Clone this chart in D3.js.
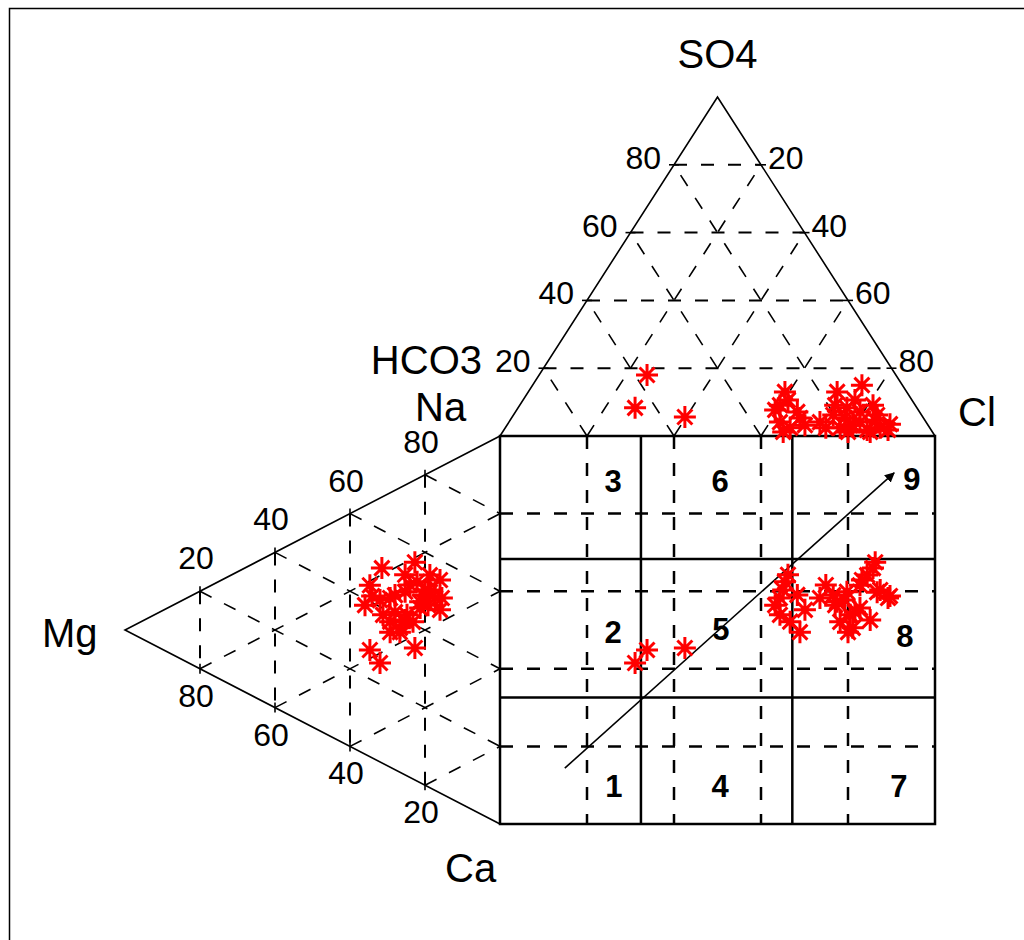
<!DOCTYPE html>
<html><head><meta charset="utf-8">
<script src="https://cdn.jsdelivr.net/npm/d3@7"></script>
<style>body{margin:0;background:#fff}svg{display:block}</style>
</head><body><svg id="c" width="1024" height="940"></svg>
<script>
// ---- sample data (percent of meq) ----
const ca   = [26.5,27.1,30.7,30.5,33.2,37.2,33.1,18.3,21.1,30.9,27.5,32.1,33.7,36.3,36.1,33.7,27.0,30.1,26.5,34.0,37.8,42.5,43.3,
              25.6,23.1,36.8,29.7,26.4,26.3,31.4,34.8,24.2,29.1,35.9,34.0,21.2];
const mg   = [22.1,29.3,20.5,31.2,29.3,26.7,17.3,31.5,34.7,18.7,25.3,21.3,24.8,23.2,26.7,21.3,28.0,19.2,18.7,15.5,34.7,32.0,22.7,
              36.0,25.3,16.0,20.0,24.0,32.0,28.0,25.3,34.1,16.0,29.3,19.2,22.7];
const na   = [51.4,43.6,48.8,38.3,37.5,36.1,49.6,50.2,44.2,50.4,47.2,46.6,41.5,40.5,37.2,45.0,45.0,50.7,54.8,50.5,27.5,25.5,34.0,
              38.4,51.6,47.2,50.3,49.6,41.7,40.6,39.9,41.7,54.9,34.8,46.8,56.1];
const hco3 = [28.0,31.1,28.1,33.6,32.1,28.4,24.4,9.7,13.7,10.2,16.1,16.0,17.9,20.6,17.3,15.2,20.3,11.4,14.7,9.9,57.2,64.8,54.7,
              32.9,28.5,28.3,34.3,23.9,18.1,13.1,14.3,8.6,9.3,19.4,18.4,11.4];
const so4  = [13.0,9.1,7.1,4.1,2.4,5.3,4.1,9.1,7.1,6.2,8.3,13.0,3.2,2.4,3.2,4.1,6.2,2.4,1.8,1.8,18.0,8.3,5.6,
              7.7,10.6,3.2,1.2,2.4,5.3,10.6,1.2,3.5,15.0,1.2,9.1,4.7];
const cl   = [59.0,59.8,64.8,62.3,65.5,66.3,71.5,81.2,79.2,83.6,75.6,71.0,78.9,77.0,79.5,80.7,73.5,86.2,83.5,88.3,24.8,26.9,39.7,
              59.4,60.9,68.5,64.5,73.7,76.6,76.3,84.5,87.9,75.7,79.4,72.5,83.9];

const gridLevels = [20,40,60,80];
const zoneBoundsX = [32.4,67.2];
const zoneBoundsY = [31.7,67.4];
const so4Labels   = ["20","40","60","80"];   // left side of anion triangle, at SO4 = 20..80
const clLabels    = ["80","60","40","20"];   // right side, at SO4 = 20..80
const naLabels    = ["80","60","40","20"];   // upper side of cation triangle, at Mg = 20..80
const mgLabels    = ["20","40","60","80"];   // lower side, at Mg = 20..80
const zoneNames   = ["1","2","3","4","5","6","7","8","9"];
const zoneAt      = [[26.2,93.0],[26.0,53.4],[26.0,14.4],[50.6,93.0],[50.8,52.6],[50.6,14.4],[91.7,93.0],[93.1,54.4],[94.7,13.9]];
const arrowFrom = [14.9,85.6], arrowTo = [90.6,9.5];

const W=1024,H=940;
const svg=d3.select("#c");
svg.append("rect").attr("width",W).attr("height",H).attr("fill","#fff");
svg.append("rect").attr("x",9.5).attr("y",8.5).attr("width",1200).attr("height",1200)
  .attr("fill","none").attr("stroke","#000").attr("stroke-width",1.5);

const xSq=d3.scaleLinear().domain([0,100]).range([500,935]);
const ySq=d3.scaleLinear().domain([0,100]).range([436,824]);
const ySO4=d3.scaleLinear().domain([0,100]).range([436,97]);
const xMg=d3.scaleLinear().domain([0,100]).range([500,125]);

const anionPt=(h,s,c)=>[xSq(c+s/2), ySO4(s)];
const cationPt=(c,m,n)=>[xMg(m), ySq(c+m/2)];

const gGrid=svg.append("g").attr("fill","none").attr("stroke","#000");
const dash="13,14";
function seg(g,a,b,w,d){g.append("line").attr("x1",a[0]).attr("y1",a[1]).attr("x2",b[0]).attr("y2",b[1])
  .attr("stroke-width",w).attr("stroke-dasharray",d||null);}

// anion triangle grid
gridLevels.forEach(k=>{
  seg(gGrid,anionPt(100-k,k,0),anionPt(0,k,100-k),2,dash);
  seg(gGrid,anionPt(100-k,0,k),anionPt(0,100-k,k),1.6,dash);
  seg(gGrid,anionPt(k,0,100-k),anionPt(k,100-k,0),1.6,dash);
});
// cation triangle grid
gridLevels.forEach(k=>{
  seg(gGrid,cationPt(0,k,100-k),cationPt(100-k,k,0),2,dash);
  seg(gGrid,cationPt(0,100-k,k),cationPt(100-k,0,k),1.6,dash);
  seg(gGrid,cationPt(k,100-k,0),cationPt(k,0,100-k),1.6,dash);
});
// square grid
gridLevels.forEach(k=>{
  seg(gGrid,[xSq(k),ySq(0)],[xSq(k),ySq(100)],2.5,dash);
  seg(gGrid,[xSq(0),ySq(k)],[xSq(100),ySq(k)],2.5,dash);
});
zoneBoundsX.forEach(k=>seg(gGrid,[xSq(k),ySq(0)],[xSq(k),ySq(100)],2.5));
zoneBoundsY.forEach(k=>seg(gGrid,[xSq(0),ySq(k)],[xSq(100),ySq(k)],2.5));

// outlines
const gOut=svg.append("g").attr("fill","none").attr("stroke","#000");
gOut.append("path").attr("stroke-width",1.6)
  .attr("d",d3.line()([anionPt(100,0,0),anionPt(0,100,0),anionPt(0,0,100)]));
gOut.append("path").attr("stroke-width",1.6)
  .attr("d",d3.line()([cationPt(0,0,100),cationPt(0,100,0),cationPt(100,0,0)]));
gOut.append("rect").attr("x",xSq(0)).attr("y",ySq(0)).attr("width",xSq(100)-xSq(0)).attr("height",ySq(100)-ySq(0))
  .attr("stroke-width",2.5);

// ticks on triangle edges
function tick(p,dir){const L=5;seg(gOut,[p[0]-dir[0]*L,p[1]-dir[1]*L],[p[0]+dir[0]*L,p[1]+dir[1]*L],1.6);}
gridLevels.forEach(k=>{
  tick(anionPt(100-k,k,0),[1,0]); tick(anionPt(0,k,100-k),[1,0]);
  tick(cationPt(0,k,100-k),[0,1]); tick(cationPt(100-k,k,0),[0,1]);
});

// tick labels
const gT=svg.append("g").attr("font-family","Liberation Sans, Arial, sans-serif").attr("font-size",32).attr("fill","#000");
gridLevels.forEach((k,i)=>{
  const pl=anionPt(100-k,k,0), pr=anionPt(0,k,100-k);
  gT.append("text").attr("x",pl[0]-13).attr("y",pl[1]+4).attr("text-anchor","end").text(so4Labels[i]);
  gT.append("text").attr("x",pr[0]+7).attr("y",pr[1]+4).attr("text-anchor","start").text(clLabels[i]);
  const pu=cationPt(0,k,100-k), pd=cationPt(100-k,k,0);
  gT.append("text").attr("x",pu[0]-4).attr("y",pu[1]-22).attr("text-anchor","middle").text(naLabels[i]);
  gT.append("text").attr("x",pd[0]-4).attr("y",pd[1]+38).attr("text-anchor","middle").text(mgLabels[i]);
});

// component names
const gN=svg.append("g").attr("font-family","Liberation Sans, Arial, sans-serif").attr("font-size",40).attr("fill","#000");
const apex=anionPt(0,100,0);
gN.append("text").attr("x",apex[0]).attr("y",68).attr("text-anchor","middle").text("SO4");
gN.append("text").attr("x",482).attr("y",374).attr("text-anchor","end").text("HCO3");
gN.append("text").attr("x",958).attr("y",426).text("Cl");
gN.append("text").attr("x",415).attr("y",421).text("Na");
gN.append("text").attr("x",42).attr("y",647).text("Mg");
gN.append("text").attr("x",445).attr("y",882).text("Ca");

// zone labels
const gZ=svg.append("g").attr("font-family","Liberation Sans, Arial, sans-serif").attr("font-weight","bold")
  .attr("font-size",31).attr("text-anchor","middle").attr("fill","#000");
zoneNames.forEach((t,i)=>gZ.append("text").attr("x",xSq(zoneAt[i][0])).attr("y",ySq(zoneAt[i][1])).text(t));

// arrow
svg.append("defs").append("marker").attr("id","ah").attr("viewBox","0 0 10 10").attr("refX",9).attr("refY",5)
  .attr("markerWidth",10).attr("markerHeight",10).attr("markerUnits","userSpaceOnUse").attr("orient","auto")
  .append("path").attr("d","M0,0L10,5L0,10Z").attr("fill","#000");
svg.append("line").attr("x1",xSq(arrowFrom[0])).attr("y1",ySq(arrowFrom[1]))
  .attr("x2",xSq(arrowTo[0])).attr("y2",ySq(arrowTo[1]))
  .attr("stroke","#000").attr("stroke-width",1.6).attr("marker-end","url(#ah)");

// data points
const r=11,d=7.5;
const star=`M${-r},0H${r}M0,${-r}V${r}M${-d},${-d}L${d},${d}M${-d},${d}L${d},${-d}`;
const gP=svg.append("g").attr("stroke","#ff0000").attr("stroke-width",3).attr("fill","none");
const idx=d3.range(ca.length);
idx.forEach(i=>{
  const a=anionPt(hco3[i],so4[i],cl[i]);
  const c=cationPt(ca[i],mg[i],na[i]);
  const s=[xSq(cl[i]+so4[i]/2), ySq(ca[i]+mg[i]/2)];
  [a,c,s].forEach(p=>gP.append("path").attr("transform",`translate(${p[0]},${p[1]})`).attr("d",star));
});
</script></body></html>
